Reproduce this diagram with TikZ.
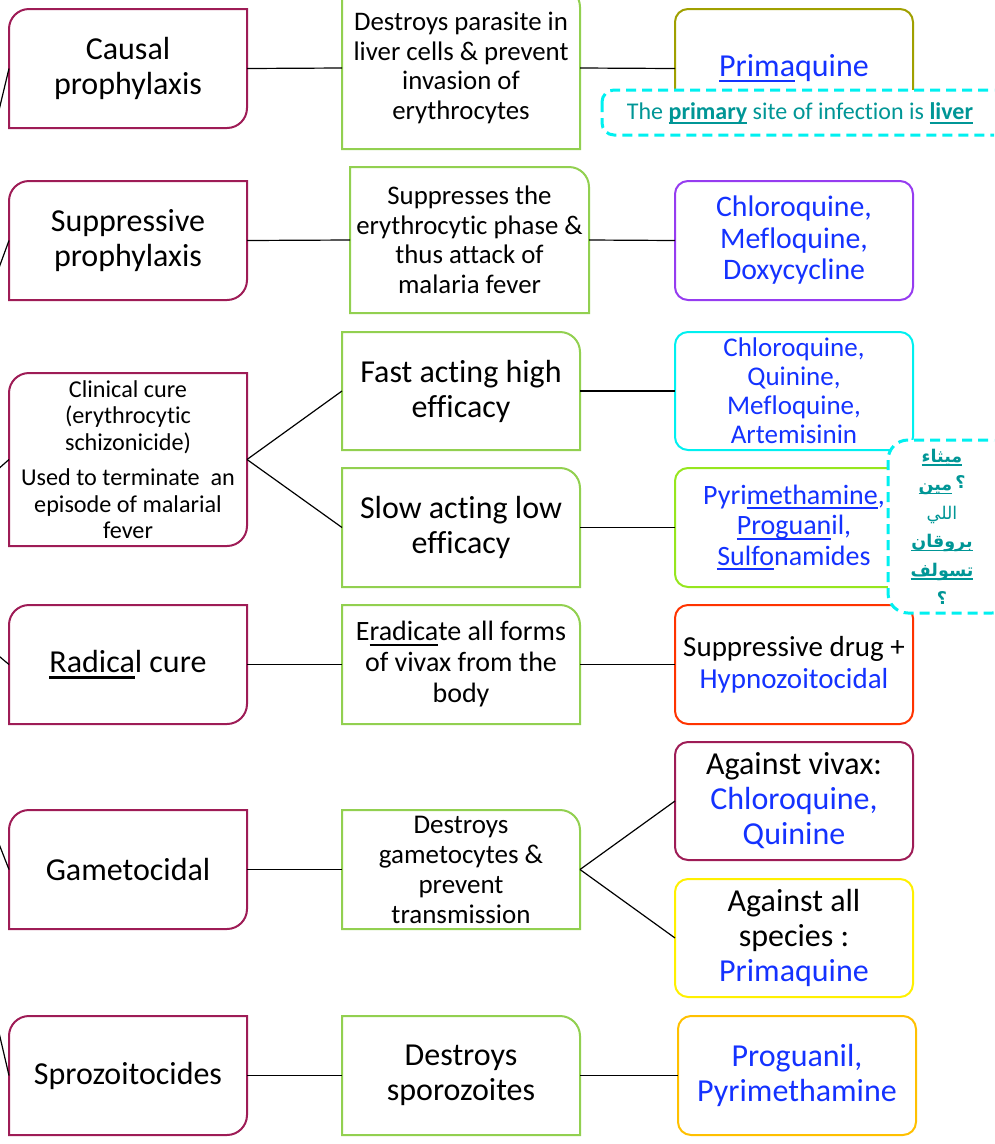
\documentclass[tikz,border=0pt]{standalone}
\usepackage{fontspec}
\setmainfont{Carlito}[Ligatures={NoCommon,NoRare}]
\newfontfamily\arabicfont[Script=Arabic]{DejaVu Sans}
\TeXXeTstate=1
\definecolor{lborder}{RGB}{158,28,86}
\definecolor{mborder}{RGB}{146,208,80}
\definecolor{olive1}{RGB}{160,160,0}
\definecolor{purple1}{RGB}{150,60,240}
\definecolor{cyan1}{RGB}{0,240,240}
\definecolor{lime1}{RGB}{150,230,30}
\definecolor{red1}{RGB}{255,51,0}
\definecolor{yellow1}{RGB}{255,240,0}
\definecolor{gold1}{RGB}{255,192,0}
\definecolor{drugblue}{RGB}{20,50,255}
\definecolor{teal1}{RGB}{0,150,150}
\definecolor{dashcyan}{RGB}{0,240,240}
\newcommand\ul[1]{\leavevmode\setbox0\hbox{#1}\rlap{\vrule width\wd0 height -0.11em depth 0.18em}\box0}
\newcommand\leftshape[1]{\draw[lline] (#1.south west) -- ([yshift=-20pt]#1.north west) arc[start angle=180,end angle=90,radius=20pt] -- (#1.north east) -- ([yshift=20pt]#1.south east) arc[start angle=0,end angle=-90,radius=20pt] -- cycle;}
\newcommand\midshape[1]{\draw[mline] (#1.south west) -- (#1.north west) -- ([xshift=-20pt]#1.north east) arc[start angle=90,end angle=0,radius=20pt] -- (#1.south east) -- cycle;}
\newcommand\fs[2]{\fontsize{#1}{#2}\selectfont}
\tikzset{
  base/.style={inner sep=0pt, outer sep=0pt, align=center, minimum width=238pt, text=black},
  lnode/.style={base, minimum height=119pt, font=\fs{32}{35}},
  mnode/.style={base, minimum height=119pt},
  rnode/.style={base, minimum height=119pt, rounded corners=13pt, line width=2pt, draw=#1, font=\fs{32}{35}},
  lline/.style={draw=lborder, line width=2pt},
  mline/.style={draw=mborder, line width=2pt},
  conn/.style={draw=black, line width=1.2pt},
  calloutframe/.style={draw=dashcyan, line width=3pt, dash pattern=on 10pt off 6pt, fill=white},
}
\begin{document}
\begin{tikzpicture}[x=1pt,y=1pt]
\useasboundingbox (0,0) rectangle (994,-1144);
\clip (0,0) rectangle (994,-1144);
\coordinate (root) at (-110,-565);
% left column
\node[lnode] (L1) at (128,-68.5) {Causal\\prophylaxis};
\node[lnode] (L2) at (128,-240.5) {Suppressive\\prophylaxis};
\node[lnode, minimum height=173pt, font=\fs{24.2}{26.5}] (L3) at (128,-459.5) {Clinical cure\\(erythrocytic\\schizonicide)\\[9pt]Used to terminate\ \ an\\episode of malarial\\fever};
\node[lnode] (L4) at (128,-664.5) {\ul{Radica}l cure};
\node[lnode] (L5) at (128,-869.5) {Gametocidal};
\node[lnode] (L6) at (128,-1075.5) {Sprozoitocides};
\foreach \n in {L1,L2,L3,L4,L5,L6} {\leftshape{\n}}
% middle column
\node[mnode, minimum height=162pt, font=\fs{26.8}{29.5}] (M1) at (461,-68) {Destroys parasite in\\liver cells \& prevent\\invasion of\\erythrocytes};
\node[mnode, minimum width=239pt, minimum height=146pt, font=\fs{26.8}{29.5}] (M2) at (469.5,-240) {Suppresses the\\erythrocytic phase \&\\thus attack of\\malaria fever};
\node[mnode, minimum height=118pt, font=\fs{32}{35}] (M3) at (461,-391) {Fast acting high\\efficacy};
\node[mnode, font=\fs{32}{35}] (M4) at (461,-527.5) {Slow acting low\\efficacy};
\node[mnode, font=\fs{28}{31}] (M5) at (461,-664.5) {E\ul{radica}te all forms\\of vivax from the\\body};
\node[mnode, font=\fs{27}{30}] (M6) at (461,-869.5) {Destroys\\gametocytes \&\\prevent\\transmission};
\node[mnode, font=\fs{32}{35}] (M7) at (461,-1075.5) {Destroys\\sporozoites};
\foreach \n in {M1,M2,M3,M4,M5,M6,M7} {\midshape{\n}}
% right column
\node[rnode=olive1, text=drugblue] (R1) at (794,-68.5) {\ul{Prima}quine};
\node[rnode=purple1, text=drugblue, font=\fs{29.8}{31.5}] (R2) at (794,-240.5) {Chloroquine,\\Mefloquine,\\Doxycycline};
\node[rnode=cyan1, text=drugblue, minimum height=118pt, font=\fs{27}{29}] (R3) at (794,-391) {Chloroquine,\\Quinine,\\Mefloquine,\\Artemisinin};
\node[rnode=lime1, text=drugblue, font=\fs{28}{30.5}] (R4) at (794,-527.5) {Pyri\ul{methamine},\\\ul{Proguan}il,\\\ul{Sulfo}namides};
\node[rnode=red1, font=\fs{29}{32}] (R5) at (794,-664.5) {Suppressive drug +\\\color{drugblue}Hypnozoitocidal};
\node[rnode=lborder, minimum height=118pt] (R6) at (794,-801) {Against vivax:\\\color{drugblue}Chloroquine,\\\color{drugblue}Quinine};
\node[rnode=yellow1, minimum height=118pt] (R7) at (794,-938) {Against all\\species :\\\color{drugblue}Primaquine};
\node[rnode=gold1, text=drugblue] (R8) at (797,-1075.5) {Proguanil,\\Pyrimethamine};
% connectors
\foreach \n in {L1,L2,L3,L4,L5,L6} {\draw[conn] (root) -- (\n.west);}
\draw[conn] (L1.east) -- (M1.west);
\draw[conn] (M1.east) -- (R1.west);
\draw[conn] (L2.east) -- (M2.west);
\draw[conn] (M2.east) -- (R2.west);
\draw[conn] (L3.east) -- (M3.west);
\draw[conn] (L3.east) -- (M4.west);
\draw[conn] (M3.east) -- (R3.west);
\draw[conn] (M4.east) -- (R4.west);
\draw[conn] (L4.east) -- (M5.west);
\draw[conn] (M5.east) -- (R5.west);
\draw[conn] (L5.east) -- (M6.west);
\draw[conn] (M6.east) -- (R6.west);
\draw[conn] (M6.east) -- (R7.west);
\draw[conn] (L6.east) -- (M7.west);
\draw[conn] (M7.east) -- (R8.west);
% callouts
\draw[calloutframe, rounded corners=12pt] (602,-90) rectangle (1012,-135);
\node[inner sep=0pt, text=teal1, font=\fs{24}{26}] (C1) at (800,-113) {The \textbf{\ul{primary}} site of infection is \textbf{\ul{liver}}};
\draw[calloutframe, rounded corners=20pt] (888,-440) rectangle (1012,-613);
\node[inner sep=0pt, align=center, text=teal1, font=\arabicfont\fs{17.5}{28.5}] (C2) at (942,-527) {%
\textbf{\ul{\beginR ميثاء\endR}}\\
\hbox{\bfseries\ul{\beginR مين\endR}\kern3pt\raisebox{2pt}{\hbox{؟}}}\\
\beginR اللي\endR\\
\textbf{\ul{\beginR بروقان\endR}}\\
\textbf{\ul{\beginR تسولف\endR}}\\
\textbf{؟}};
\end{tikzpicture}
\end{document}
